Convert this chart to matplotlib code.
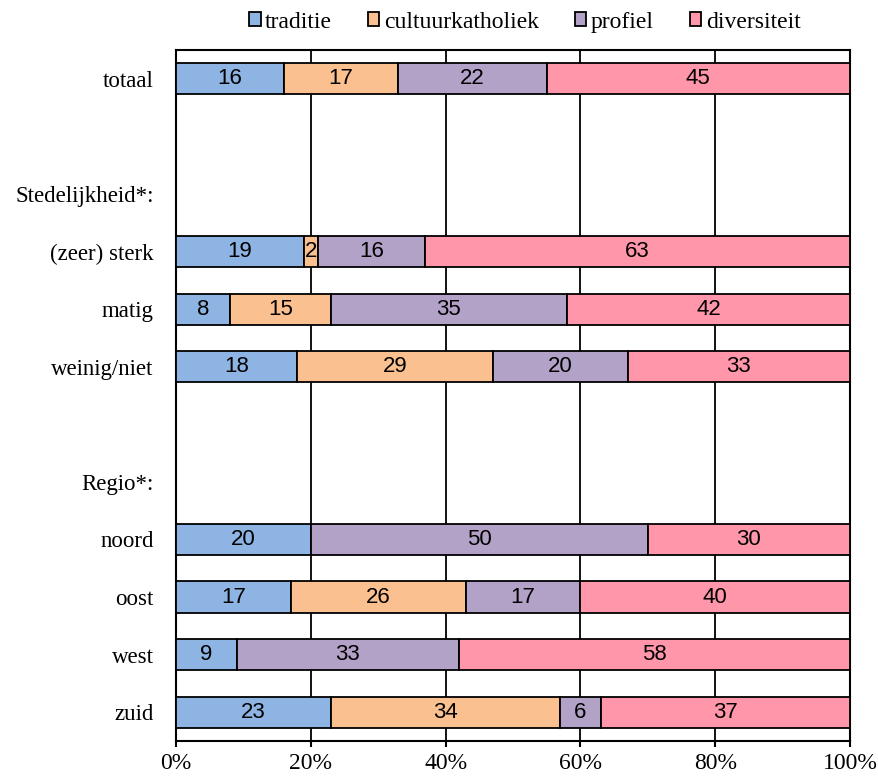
import matplotlib.pyplot as plt
import numpy as np
from matplotlib.ticker import PercentFormatter

plt.rcParams.update({
	"font.family": ["Liberation Serif", "DejaVu Serif"],
})

rows = ["totaal", "", "Stedelijkheid*:", "(zeer) sterk", "matig", "weinig/niet",
        "", "Regio*:", "noord", "oost", "west", "zuid"]
series = ["traditie", "cultuurkatholiek", "profiel", "diversiteit"]
colors = ["#8DB4E2", "#FAC090", "#B3A2C7", "#FF96AA"]

# None = empty row (no bar)
traditie = [16, None, None, 19, 8, 18, None, None, 20, 17, 9, 23]
cultuurkatholiek = [17, None, None, 2, 15, 29, None, None, 0, 26, 0, 34]
profiel = [22, None, None, 16, 35, 20, None, None, 50, 17, 33, 6]
diversiteit = [45, None, None, 63, 42, 33, None, None, 30, 40, 58, 37]

data = [traditie, cultuurkatholiek, profiel, diversiteit]

fig = plt.figure(figsize=(8.79, 7.78), dpi=100)
ax = fig.add_axes([0.2002, 0.0476, 0.7668, 0.888])

y = np.arange(len(rows))
left = np.zeros(len(rows))
for name, vals, col in zip(series, data, colors):
	v = np.array([0 if x is None else x for x in vals], dtype=float)
	ax.barh(y, v, left=left, height=0.54, color=col, edgecolor="black",
	        linewidth=1.3, label=name, zorder=3)
	for i, val in enumerate(v):
		if val > 0:
			ax.text(left[i] + val / 2, y[i], f"{int(val)}", ha="center", va="center",
			        fontsize=16, family="Liberation Sans", zorder=4)
	left += v

ax.set_ylim(len(rows) - 0.5, -0.5)
ax.set_xlim(0, 100)
ax.set_yticks(y)
ax.set_yticklabels(rows, fontsize=16.5)
ax.tick_params(axis="y", length=0, pad=16)
ax.set_xticks([0, 20, 40, 60, 80, 100])
ax.xaxis.set_major_formatter(PercentFormatter(decimals=0))
ax.tick_params(axis="x", direction="out", length=4, width=1.5, labelsize=17, pad=5)
ax.grid(axis="x", color="black", linewidth=1.3, zorder=0)
for s in ax.spines.values():
	s.set_linewidth(1.5)

fig.legend(*ax.get_legend_handles_labels(), loc="center", bbox_to_anchor=(0.597, 0.9717),
           ncol=4, frameon=False, fontsize=17, handlelength=0.5, handleheight=0.5,
           handletextpad=0.2, columnspacing=1.5, borderpad=0)

fig.savefig("out.png", dpi=100)
